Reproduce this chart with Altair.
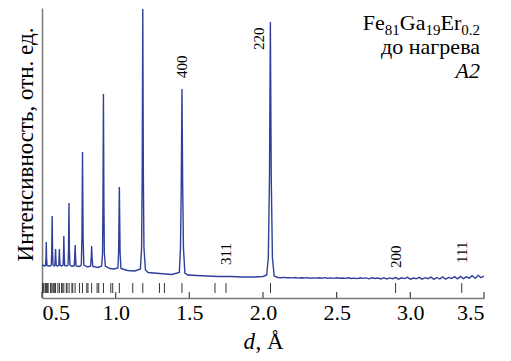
import altair as alt
import pandas as pd

# ---- data ----
curve_d = [
    0.500, 0.510, 0.520,
    0.524, 0.527, 0.529, 0.531, 0.534,
    0.545, 0.555,
    0.563, 0.566, 0.569, 0.572, 0.575,
    0.582,
    0.588, 0.590, 0.592, 0.594, 0.597,
    0.606,
    0.614, 0.616, 0.618, 0.620, 0.623,
    0.633,
    0.643, 0.646, 0.648, 0.651, 0.654,
    0.668,
    0.677, 0.680, 0.683, 0.686, 0.690,
    0.705,
    0.719, 0.722, 0.725, 0.728, 0.731,
    0.755,
    0.767, 0.771, 0.775, 0.779, 0.784,
    0.810,
    0.830, 0.834, 0.837, 0.840, 0.845,
    0.880,
    0.905, 0.911, 0.914, 0.917, 0.920, 0.923, 0.930,
    0.960, 0.990,
    1.015, 1.020, 1.025, 1.030, 1.036,
    1.080, 1.130,
    1.168, 1.176, 1.180, 1.184, 1.188, 1.192, 1.202, 1.220,
    1.300, 1.380,
    1.432, 1.440, 1.445, 1.450, 1.455, 1.460, 1.470, 1.490,
    1.550, 1.620, 1.700, 1.780, 1.860, 1.940, 2.000,
    2.025, 2.036, 2.044, 2.050, 2.056, 2.064, 2.076, 2.100,
    2.12, 2.14, 2.16, 2.18, 2.20, 2.22, 2.24, 2.26, 2.28, 2.30,
    2.32, 2.34, 2.36, 2.38, 2.40, 2.42, 2.44, 2.46, 2.48, 2.50,
    2.52, 2.54, 2.56, 2.58, 2.60, 2.62, 2.64, 2.66, 2.68, 2.70,
    2.72, 2.74, 2.76, 2.78, 2.80, 2.82, 2.84, 2.86, 2.88, 2.90,
    2.92, 2.94, 2.96, 2.98, 3.00, 3.02, 3.04, 3.06, 3.08, 3.10,
    3.12, 3.14, 3.16, 3.18, 3.20, 3.22, 3.24, 3.26, 3.28, 3.30,
    3.32, 3.34, 3.36, 3.38, 3.40, 3.42, 3.44, 3.46, 3.48, 3.50,
]
curve_i = [
    33, 32.5, 32,
    32.5, 40, 56, 40, 32.5,
    32, 32,
    33, 45, 82, 45, 33,
    32,
    33, 40, 49, 40, 32.5,
    32,
    33, 40, 49, 40, 32.5,
    32,
    33, 42, 62, 42, 32.5,
    32,
    33, 48, 95, 48, 33,
    31.5,
    32.5, 40, 53, 40, 32,
    31.5,
    33, 60, 146, 60, 33,
    31,
    32, 40, 52, 40, 31.5,
    30.5,
    32, 45, 100, 204, 100, 45, 32,
    29.5, 29,
    30, 45, 111, 45, 29.5,
    27.5, 27,
    29, 50, 120, 289, 120, 50, 28, 25.5,
    24.5, 23.5,
    25.5, 50, 110, 209, 110, 50, 25, 23,
    22.5, 22, 21.5, 21.5, 21, 21, 21.5,
    23, 40, 120, 276, 120, 40, 22, 20.5,
    20.3, 20.6, 20.2, 20.4, 20.1, 20.5, 19.9, 20.2, 20.0, 20.4,
    19.8, 20.1, 19.9, 20.3, 19.7, 20.4, 19.8, 20.1, 19.6, 20.3,
    19.7, 20.0, 19.6, 20.3, 19.5, 19.9, 19.4, 20.2, 19.6, 20.1,
    19.2, 20.2, 19.5, 20.0, 19.1, 20.3, 19.0, 20.1, 19.3, 20.5,
    18.9, 20.2, 19.4, 20.6, 18.8, 20.0, 19.2, 20.7, 18.9, 20.3,
    19.3, 20.9, 18.7, 20.5, 19.0, 21.1, 18.8, 20.6, 19.5, 21.3,
    19.1, 21.6, 19.4, 21.2, 19.9, 22.3, 19.6, 22.6, 20.3, 22.0,
]

bragg_d = [
    3.349, 2.900, 2.051, 1.749, 1.674, 1.450, 1.331, 1.297, 1.184, 1.116,
    1.025, 0.980, 0.967, 0.917, 0.885, 0.874, 0.837, 0.812, 0.804, 0.775,
    0.755, 0.725, 0.709, 0.703, 0.684, 0.670, 0.665, 0.648, 0.637, 0.633,
    0.618, 0.608, 0.592, 0.583, 0.580, 0.569, 0.561, 0.558, 0.541, 0.539,
    0.530, 0.523, 0.513, 0.507, 0.505,
]

x_ticks = [0.5, 1.0, 1.5, 2.0, 2.5, 3.0, 3.5]

peak_labels = ["400", "220", "311", "200", "111"]
peak_label_d = [1.45, 1.97, 1.749, 2.90, 3.352]
peak_label_i = [220, 248, 33, 30, 35]

FONT = "Liberation Serif"
LINE = "#30409a"

curve = pd.DataFrame({"d": curve_d, "I": curve_i})
bragg = pd.DataFrame({"d": bragg_d})
ticks = pd.DataFrame({"d": x_ticks})
labels = pd.DataFrame({"d": peak_label_d, "I": peak_label_i, "t": peak_labels})

xscale = alt.Scale(domain=[0.5, 3.5], nice=False, zero=False)
yscale = alt.Scale(domain=[0, 290], nice=False, zero=False)

line = alt.Chart(curve).mark_line(color=LINE, strokeWidth=1.4).encode(
    x=alt.X("d:Q", scale=xscale,
            axis=alt.Axis(values=x_ticks, format=".1f", title=None, grid=False,
                          ticks=False, tickSize=0, labelPadding=4,
                          labelFont=FONT, labelFontSize=22, labelColor="black",
                          domainColor="#7a7a7a", domainWidth=1.5)),
    y=alt.Y("I:Q", scale=yscale,
            axis=alt.Axis(title="Интенсивность, отн. ед.", labels=False, ticks=False,
                          tickSize=0, grid=False, domainColor="#7a7a7a", domainWidth=1.5,
                          titleFont=FONT, titleFontSize=23, titleFontWeight="normal",
                          titleColor="black", titleAngle=270, titleAlign="center",
                          titleBaseline="alphabetic", titleX=-10, titleY=136)),
)

bragg_rules = alt.Chart(bragg).mark_rule(color="#333333", strokeWidth=1).encode(
    x=alt.X("d:Q", scale=xscale), y=alt.datum(5), y2=alt.datum(15)
)

axis_ticks = alt.Chart(ticks).mark_rule(color="#444444", strokeWidth=1.2).encode(
    x=alt.X("d:Q", scale=xscale), y=alt.datum(0), y2=alt.datum(6)
)

peak_text = alt.Chart(labels).mark_text(
    angle=270, align="left", baseline="middle", font=FONT, fontSize=15, color="black"
).encode(x=alt.X("d:Q", scale=xscale), y=alt.Y("I:Q", scale=yscale), text="t:N")

one = pd.DataFrame({"k": [0]})

def seg(txt, px, py, size=22, style="normal", align="left"):
    return alt.Chart(one).mark_text(
        font=FONT, fontSize=size, fontStyle=style, align=align,
        baseline="alphabetic", color="black"
    ).encode(x=alt.value(px), y=alt.value(py), text=alt.value(txt))

annot = [
    seg("Fe", 320.75, 22),
    seg("81", 342.75, 27, size=15),
    seg("Ga", 357.75, 22),
    seg("19", 383.45, 27, size=15),
    seg("Er", 398.45, 22),
    seg("0.2", 419.25, 27, size=15),
    seg("до нагрева", 438, 45.5, align="right"),
    seg("A2", 438, 69.5, style="italic", align="right"),
    seg("d", 213, 341, size=23, style="italic", align="right"),
    seg(", Å", 213.5, 341, size=23),
]

chart = alt.layer(line, bragg_rules, axis_ticks, peak_text, *annot).properties(
    width=442, height=290,
    autosize=alt.AutoSizeParams(type="none"),
    padding={"left": 34, "top": 0, "right": 19, "bottom": 60},
).configure_view(strokeWidth=0)

chart.save("out.html", embed_options={"renderer": "svg", "actions": False})
